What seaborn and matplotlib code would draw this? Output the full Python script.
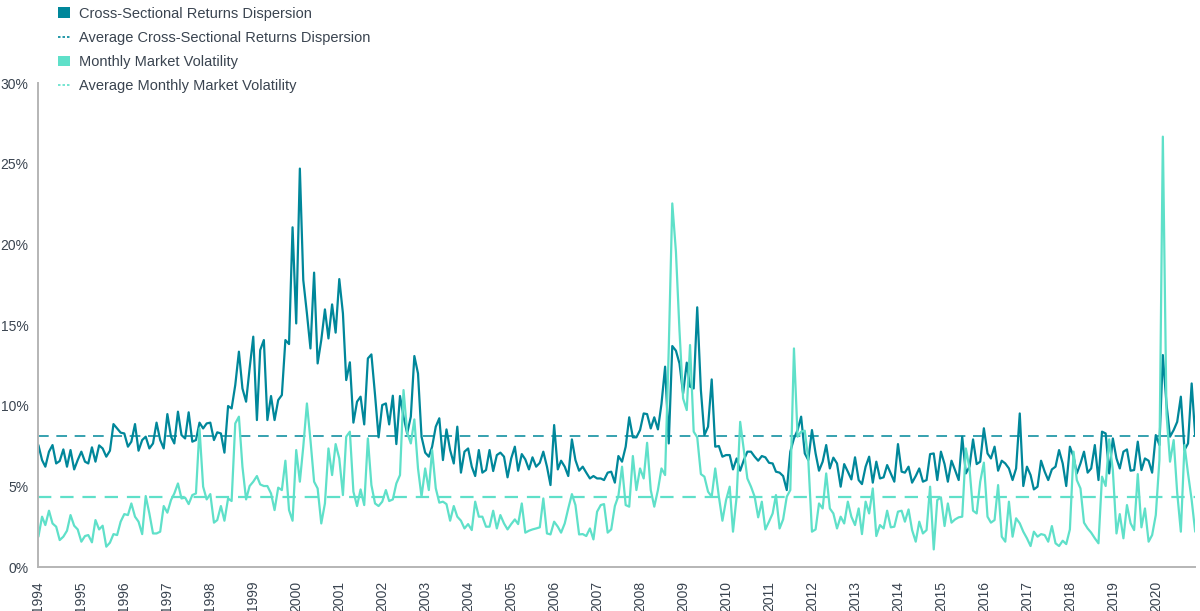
import pandas as pd
import matplotlib
matplotlib.use("Agg")
import matplotlib.pyplot as plt
import seaborn as sns
from matplotlib.lines import Line2D
from matplotlib.patches import Patch

# monthly values, Jan 1994 - Dec 2020 (percent)
dispersion = [
    7.56, 6.63, 6.22, 7.15, 7.56, 6.42, 6.57, 7.29, 6.22, 7.25, 6.05, 6.63,
    7.15, 6.53, 6.42, 7.42, 6.53, 7.54, 7.35, 6.84, 7.21, 8.86, 8.59, 8.33,
    8.28, 7.46, 7.77, 8.86, 7.21, 7.87, 8.08, 7.35, 7.66, 8.95, 7.87, 7.35,
    9.48, 8.08, 7.66, 9.63, 8.18, 7.97, 9.59, 7.77, 7.87, 8.95, 8.59, 8.90,
    8.95, 7.87, 8.35, 8.28, 7.09, 9.98, 9.83, 11.28, 13.35, 11.07, 10.25, 12.31,
    14.28, 9.11, 13.45, 14.07, 9.11, 10.60, 9.11, 10.35, 10.66, 14.07, 13.82, 21.06,
    15.10, 24.70, 17.79, 15.72, 13.55, 18.25, 12.62, 14.07, 15.97, 14.17, 16.28, 14.53,
    17.85, 15.72, 11.59, 12.69, 8.95, 10.25, 10.56, 8.84, 12.93, 13.18, 10.66, 8.04,
    10.04, 10.14, 8.84, 10.62, 7.62, 10.60, 9.32, 8.28, 9.32, 13.08, 12.00, 8.08,
    7.09, 6.84, 7.46, 8.70, 9.22, 6.63, 8.53, 7.25, 6.42, 8.70, 5.85, 7.15,
    7.35, 6.22, 5.64, 7.25, 5.85, 6.01, 7.25, 5.95, 6.94, 7.09, 6.84, 5.56,
    6.73, 7.46, 5.97, 7.00, 6.67, 6.05, 6.80, 6.22, 6.46, 7.15, 6.22, 5.08,
    8.80, 6.05, 6.59, 6.22, 5.64, 7.91, 6.63, 5.97, 6.22, 5.85, 5.49, 5.64,
    5.49, 5.49, 5.39, 5.85, 5.91, 5.23, 6.88, 6.53, 7.46, 9.28, 8.04, 8.04,
    8.49, 9.52, 9.48, 8.59, 9.28, 8.53, 10.10, 12.42, 7.66, 13.70, 13.41, 12.62,
    10.76, 12.67, 11.18, 11.07, 16.10, 10.97, 8.18, 8.70, 11.63, 7.46, 7.50, 6.84,
    6.94, 6.94, 6.05, 6.73, 5.97, 6.63, 7.15, 7.15, 6.84, 6.59, 6.88, 6.80,
    6.46, 6.42, 5.91, 5.85, 5.64, 4.77, 7.15, 7.97, 8.49, 9.32, 7.04, 6.63,
    8.49, 7.04, 5.97, 6.53, 7.56, 6.11, 6.78, 6.42, 4.98, 6.38, 5.91, 5.43,
    6.80, 5.39, 5.14, 6.22, 6.84, 5.23, 6.53, 5.49, 5.56, 6.32, 5.80, 5.29,
    7.62, 5.91, 5.85, 6.22, 5.23, 5.64, 6.11, 5.29, 5.39, 7.00, 7.04, 5.39,
    7.15, 6.38, 5.29, 6.59, 6.01, 5.39, 8.08, 5.80, 6.22, 7.91, 6.38, 6.53,
    8.60, 7.04, 6.73, 7.46, 5.97, 6.59, 6.42, 6.11, 5.39, 6.11, 9.52, 5.02,
    6.22, 5.70, 4.81, 4.98, 6.59, 5.91, 5.39, 6.05, 6.22, 7.25, 6.42, 5.02,
    7.46, 6.84, 5.80, 6.42, 7.15, 5.85, 6.11, 7.56, 5.39, 8.39, 8.28, 5.80,
    7.97, 6.73, 6.11, 7.15, 7.29, 5.97, 6.01, 7.77, 6.01, 6.73, 6.59, 5.85,
    8.18, 7.56, 13.14, 10.10, 8.08, 8.49, 9.00, 10.56, 7.25, 7.66, 11.38, 8.12,
]

volatility = [
    1.88, 3.12, 2.60, 3.49, 2.70, 2.50, 1.67, 1.88, 2.25, 3.22, 2.56, 2.33,
    1.57, 1.92, 1.98, 1.53, 2.91, 2.33, 2.56, 1.26, 1.51, 2.04, 1.98, 2.81,
    3.28, 3.22, 3.94, 3.12, 2.81, 2.04, 4.40, 3.32, 2.08, 2.08, 2.19, 3.78,
    3.37, 4.15, 4.56, 5.18, 4.25, 4.30, 3.90, 4.46, 4.56, 8.59, 4.98, 4.19,
    4.52, 2.75, 2.91, 3.78, 2.87, 4.25, 4.09, 8.90, 9.32, 6.22, 4.19, 5.02,
    5.29, 5.64, 5.12, 5.02, 5.02, 4.56, 3.53, 4.92, 4.77, 6.59, 3.53, 2.87,
    7.25, 5.29, 7.46, 10.14, 7.87, 5.29, 4.87, 2.70, 3.94, 7.35, 5.70, 7.62,
    6.73, 4.46, 8.08, 8.39, 4.67, 3.78, 4.81, 3.84, 7.97, 5.08, 3.94, 3.78,
    4.05, 4.77, 4.09, 4.19, 5.18, 5.70, 10.97, 8.33, 7.66, 9.15, 6.11, 4.36,
    6.11, 4.77, 7.25, 4.88, 3.99, 4.05, 3.90, 2.87, 3.78, 3.12, 2.87, 2.39,
    2.66, 2.29, 4.05, 3.12, 3.12, 2.50, 2.50, 3.49, 2.39, 3.22, 2.70, 2.33,
    2.66, 2.95, 2.66, 3.94, 2.13, 2.25, 2.33, 2.39, 2.46, 4.25, 2.08, 2.02,
    2.81, 2.50, 2.13, 2.70, 3.63, 4.52, 3.84, 2.02, 2.04, 1.92, 2.39, 1.71,
    3.43, 3.84, 3.90, 2.13, 2.33, 3.78, 4.40, 6.22, 3.84, 3.74, 6.88, 4.77,
    6.11, 5.49, 7.70, 4.77, 3.74, 4.77, 6.11, 5.70, 13.55, 22.54, 19.55, 14.69,
    10.45, 9.73, 13.76, 8.39, 8.04, 5.76, 5.60, 4.67, 4.36, 6.11, 4.36, 2.87,
    4.15, 4.98, 2.19, 4.36, 9.00, 7.25, 5.49, 4.98, 4.36, 3.08, 4.05, 2.33,
    2.81, 3.32, 4.46, 2.39, 2.95, 4.36, 4.77, 13.55, 8.08, 8.39, 8.45, 6.63,
    2.19, 2.33, 3.94, 3.63, 5.80, 3.63, 3.32, 2.39, 3.12, 2.70, 4.05, 3.12,
    2.60, 3.63, 2.04, 4.05, 3.32, 4.87, 1.92, 2.60, 2.39, 3.49, 2.46, 2.50,
    3.43, 3.49, 2.81, 3.57, 2.29, 1.57, 2.81, 2.08, 2.29, 4.98, 1.09, 4.15,
    4.32, 2.54, 3.94, 2.75, 2.95, 3.08, 3.12, 7.35, 6.11, 3.49, 3.32, 5.29,
    6.47, 3.12, 2.75, 2.91, 5.08, 1.88, 1.57, 4.05, 1.88, 3.02, 2.71, 2.19,
    1.78, 1.30, 2.19, 1.88, 2.04, 1.98, 1.57, 2.54, 1.47, 1.30, 1.63, 1.42,
    2.33, 7.15, 5.39, 4.87, 2.75, 2.39, 2.13, 1.78, 1.47, 5.60, 5.02, 7.91,
    6.01, 2.08, 3.28, 1.78, 3.84, 2.71, 2.29, 5.76, 2.46, 3.63, 1.57, 1.98,
    3.22, 6.63, 26.68, 9.50, 6.53, 7.87, 4.60, 2.19, 7.56, 5.80, 4.15, 2.19,
]

avg_dispersion = 8.1
avg_volatility = 4.35
years = list(range(1994, 2021))

disp_name = "Cross-Sectional Returns Dispersion"
vol_name = "Monthly Market Volatility"
teal = "#00879a"
mint = "#5fe0c9"
text_color = "#3a4450"

dates = pd.date_range("1994-01-01", periods=len(dispersion), freq="MS")
df = pd.DataFrame({"date": dates, disp_name: dispersion, vol_name: volatility})
long_df = df.melt(id_vars="date", var_name="series", value_name="value")

sns.set_style("white")
plt.rcParams["font.family"] = ["Liberation Sans", "DejaVu Sans"]

fig = plt.figure(figsize=(12, 6.11), dpi=100)
ax = fig.add_axes([0.032, 0.072, 0.964, 0.792])

sns.lineplot(data=long_df, x="date", y="value", hue="series",
             hue_order=[disp_name, vol_name], palette={disp_name: teal, vol_name: mint},
             linewidth=1.6, legend=False, ax=ax)

ax.axhline(avg_dispersion, color=teal, lw=1.1, dashes=(7, 5), zorder=1)
ax.axhline(avg_volatility, color=mint, lw=1.6, dashes=(6, 4), zorder=1)

ax.set_xlim(dates[0], dates[-1])
ax.set_ylim(0, 30)
ax.set_xticks(pd.to_datetime([f"{y}-01-01" for y in years]))
ax.set_xticklabels([str(y) for y in years], rotation=90)
ax.set_yticks(range(0, 31, 5))
ax.set_yticklabels([f"{v}%" for v in range(0, 31, 5)])
ax.tick_params(length=0, labelsize=10, colors=text_color)
ax.tick_params(axis="x", pad=10)
ax.tick_params(axis="y", pad=7)
ax.set_xlabel("")
ax.set_ylabel("")

for side in ["top", "right"]:
    ax.spines[side].set_visible(False)
for side in ["left", "bottom"]:
    ax.spines[side].set_color("#b5b5b5")
    ax.spines[side].set_linewidth(1.4)

handles = [
    Patch(facecolor=teal, edgecolor="none"),
    Line2D([0], [0], color=teal, lw=1.2, dashes=(1.5, 1.2)),
    Patch(facecolor=mint, edgecolor="none"),
    Line2D([0], [0], color=mint, lw=1.2, dashes=(1.5, 1.2)),
]
labels = [disp_name, "Average " + disp_name, vol_name, "Average " + vol_name]
fig.legend(handles, labels, loc="upper left", bbox_to_anchor=(0.046, 0.994),
           frameon=False, fontsize=10.5, labelcolor=text_color,
           borderaxespad=0, borderpad=0.2,
           handlelength=0.8, handleheight=0.75, handletextpad=0.62, labelspacing=0.7)

fig.savefig("out.png", dpi=100)
